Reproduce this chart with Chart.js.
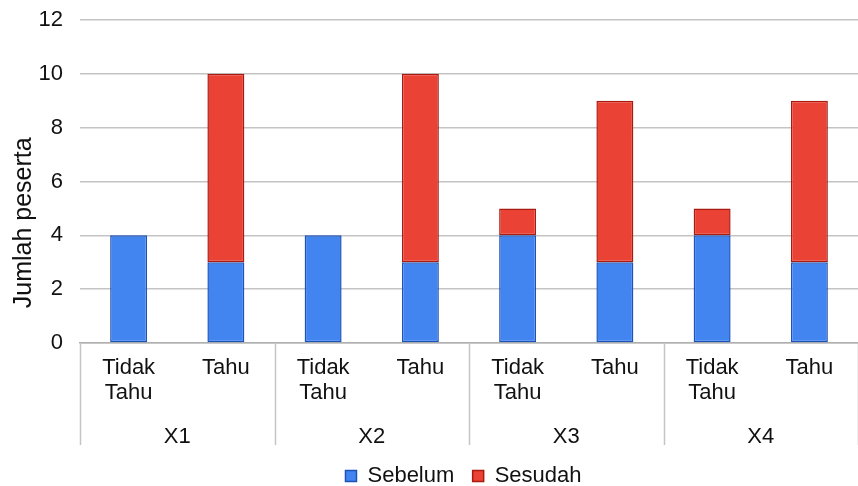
<!DOCTYPE html>
<html>
<head>
<meta charset="utf-8">
<script src="https://cdn.jsdelivr.net/npm/chart.js@4.4.1/dist/chart.umd.min.js"></script>
<style>
  html, body { margin: 0; padding: 0; background: #fff; }
  #wrap { width: 858px; height: 486px; }
</style>
</head>
<body>
<div id="wrap"><canvas id="chart"></canvas></div>
<script>
const categories = [['Tidak', 'Tahu'], 'Tahu', ['Tidak', 'Tahu'], 'Tahu', ['Tidak', 'Tahu'], 'Tahu', ['Tidak', 'Tahu'], 'Tahu'];
const groups = ['X1', 'X2', 'X3', 'X4'];
const sebelum = [4, 3, 4, 3, 4, 3, 4, 3];
const sesudah = [0, 7, 0, 7, 1, 6, 1, 6];
const yTicks = [0, 2, 4, 6, 8, 10, 12];

const FONT = 'Liberation Sans, Arial, sans-serif';

// group separators drawn from the x scale positions
const groupLines = {
    id: 'groupLines',
    afterDraw(chart) {
        const x = chart.scales.x;
        const ctx = chart.ctx;
        const xs = [chart.chartArea.left];
        for (let i = 2; i < categories.length; i += 2) {
            xs.push((x.getPixelForValue(i - 1) + x.getPixelForValue(i)) / 2);
        }
        xs.push(chart.chartArea.right);
        ctx.save();
        ctx.strokeStyle = '#c4c4c4';
        ctx.lineWidth = 1.5;
        xs.forEach(px => {
            ctx.beginPath();
            ctx.moveTo(Math.round(px) + 0.5, chart.chartArea.bottom);
            ctx.lineTo(Math.round(px) + 0.5, chart.chartArea.bottom + 102);
            ctx.stroke();
        });
        ctx.restore();
    }
};

// nudge the legend a little lower / right, like the original
const legendShift = {
    id: 'legendShift',
    afterLayout(chart) {
        const lg = chart.legend;
        lg.top += 11; lg.bottom += 11;
        lg.left += 30; lg.right += 30;
    }
};

new Chart(document.getElementById('chart'), {
    type: 'bar',
    data: {
        labels: categories,
        datasets: [{
            label: 'Sebelum',
            data: sebelum,
            backgroundColor: '#4285f0',
            borderColor: '#1d52b8',
            borderWidth: 1.5,
            borderSkipped: false,
            barPercentage: 0.38,
            categoryPercentage: 1
        }, {
            label: 'Sesudah',
            data: sesudah,
            backgroundColor: '#ea4335',
            borderColor: '#a91a10',
            borderWidth: 1.5,
            borderSkipped: false,
            barPercentage: 0.38,
            categoryPercentage: 1
        }]
    },
    options: {
        responsive: true,
        maintainAspectRatio: false,
        animation: false,
        layout: { padding: { top: 20, right: 0, left: 9, bottom: 0 } },
        plugins: {
            legend: {
                position: 'bottom',
                labels: {
                    font: { family: FONT, size: 22 },
                    color: '#111',
                    boxWidth: 11,
                    boxHeight: 11,
                    padding: 0,
                    generateLabels: chart => {
                        const items = Chart.defaults.plugins.legend.labels.generateLabels(chart);
                        items.forEach((it, i) => {
                            if (i < items.length - 1) it.text += '   ';
                        });
                        return items;
                    }
                }
            },
            tooltip: { enabled: false }
        },
        scales: {
            x: {
                stacked: true,
                grid: { display: false },
                border: { color: '#b0b0b0', width: 1.5 },
                ticks: {
                    font: { family: FONT, size: 22, lineHeight: 1.14 },
                    color: '#111',
                    maxRotation: 0,
                    autoSkip: false,
                    padding: 4
                },
                afterFit: s => { s.height = 72; }
            },
            x2: {
                type: 'category',
                labels: groups,
                position: 'bottom',
                offset: true,
                grid: { display: false },
                border: { display: false },
                ticks: {
                    font: { family: FONT, size: 22 },
                    color: '#111',
                    padding: 1
                },
                afterFit: s => { s.height = 39; }
            },
            y: {
                stacked: true,
                min: 0,
                max: 12,
                afterBuildTicks: s => { s.ticks = yTicks.map(v => ({ value: v })); },
                grid: { color: '#c4c4c4', lineWidth: 1.5, drawTicks: true, tickLength: 17, tickColor: 'rgba(0,0,0,0)' },
                border: { display: false },
                ticks: {
                    font: { family: FONT, size: 22 },
                    color: '#111',
                    padding: 0
                },
                title: {
                    display: true,
                    text: '     Jumlah peserta',
                    align: 'start',
                    font: { family: FONT, size: 25 },
                    color: '#111',
                    padding: { top: 0, bottom: 0 }
                },
                afterFit: s => { s.width = 71; }
            }
        }
    },
    plugins: [groupLines, legendShift]
});
</script>
</body>
</html>
